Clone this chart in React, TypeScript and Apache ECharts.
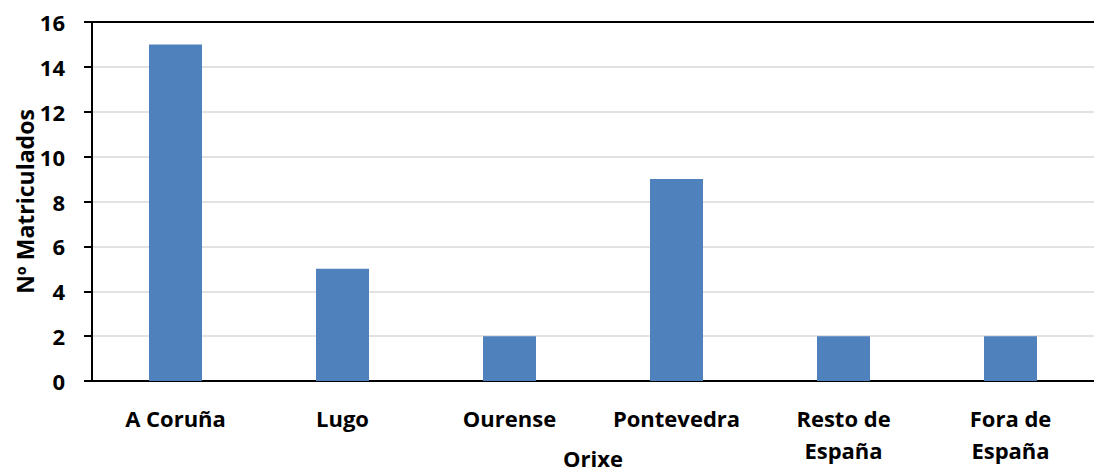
import React, { useEffect, useRef } from "react";
import * as echarts from "echarts";

const categories = ["A Coruña", "Lugo", "Ourense", "Pontevedra", "Resto de\nEspaña", "Fora de\nEspaña"];
const values = [15, 5, 2, 9, 2, 2];
const yTicks = { min: 0, max: 16, interval: 2 };
const xName = "Orixe";
const yName = "Nº Matriculados";

const FONT = "'Open Sans', Lato, sans-serif";
const FS = 22;

export default function App() {
  const ref = useRef<HTMLDivElement>(null);
  useEffect(() => {
    if (!ref.current) return;
    const chart = echarts.init(ref.current, null, { renderer: "svg" });
    chart.setOption({
      animation: false,
      textStyle: { fontFamily: FONT },
      grid: { left: 92, right: 0, top: 22, bottom: 93, containLabel: false, outerBoundsMode: "none" },
      xAxis: [
        {
          type: "category",
          data: categories,
          name: xName,
          nameLocation: "middle",
          nameGap: 65,
          nameMoveOverlap: false,
          nameTextStyle: { fontFamily: FONT, fontWeight: "bold", fontSize: FS, color: "#000", lineHeight: 24 },
          axisLine: { lineStyle: { color: "#000", width: 2 } },
          axisTick: { show: false },
          axisLabel: { fontFamily: FONT, fontWeight: "bold", fontSize: FS, color: "#000", margin: 21, lineHeight: 32 },
        },
        {
          type: "category",
          data: categories,
          position: "top",
          axisLine: { show: true, lineStyle: { color: "#000", width: 2 } },
          axisTick: { show: false },
          axisLabel: { show: false },
        },
      ],
      yAxis: {
        type: "value",
        min: yTicks.min,
        max: yTicks.max,
        interval: yTicks.interval,
        name: yName,
        nameLocation: "middle",
        nameGap: 56,
        nameMoveOverlap: false,
        nameTextStyle: { fontFamily: FONT, fontWeight: "bold", fontSize: 23, color: "#000" },
        axisLine: { show: true, lineStyle: { color: "#000", width: 2 } },
        axisTick: { show: true, length: 8, lineStyle: { color: "#000", width: 2 } },
        axisLabel: { fontFamily: FONT, fontWeight: "bold", fontSize: FS, color: "#000", margin: 27 },
        splitLine: { lineStyle: { color: "#d9d9d9", width: 1.5 } },
      },
      series: [
        {
          type: "bar",
          data: values,
          barWidth: 53,
          itemStyle: { color: "#4f81bd" },
        },
      ],
    });
    return () => chart.dispose();
  }, []);
  return (
    <div
      ref={ref}
      style={{ position: "fixed", left: 0, top: 0, width: 1094, height: 474, background: "#fff" }}
    />
  );
}
